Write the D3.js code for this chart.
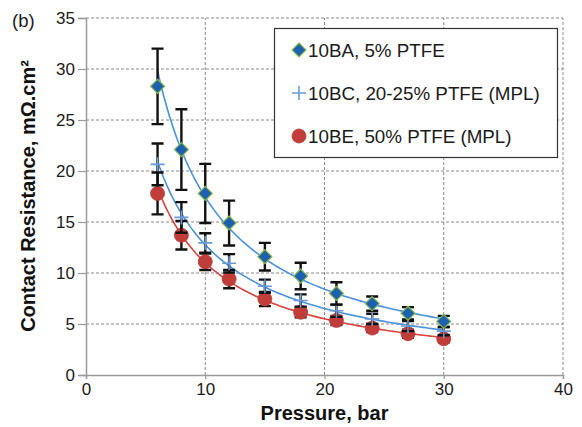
<!DOCTYPE html>
<html>
<head>
<meta charset="utf-8">
<script src="https://cdn.jsdelivr.net/npm/d3@7"></script>
<style>
  body { margin: 0; background: #fff; }
  svg { display: block; font-family: "Liberation Sans", Arial, sans-serif; }
</style>
</head>
<body>
<div id="chart"></div>
<script>
// pressure values (bar)
var pressure = [6, 8, 10, 12, 15, 18, 21, 24, 27, 30];

// contact resistance, mOhm.cm2, and error bar half-widths
var ba = [28.3, 22.1, 17.8, 14.9, 11.6, 9.7, 8.0, 7.0, 6.05, 5.25];
var baErr = [3.7, 3.95, 2.9, 2.2, 1.35, 1.3, 1.1, 0.7, 0.6, 0.55];
var bc = [20.65, 15.45, 12.95, 10.95, 8.7, 7.3, 6.3, 5.5, 4.8, 4.3];
var bcErr = [2.05, 1.5, 0.95, 0.9, 0.65, 0.6, 0.6, 0.5, 0.5, 0.4];
var be = [17.8, 13.7, 11.1, 9.4, 7.45, 6.15, 5.35, 4.6, 4.05, 3.55];
var beErr = [2.05, 1.4, 0.8, 0.9, 0.7, 0.5, 0.45, 0.4, 0.4, 0.35];

var seriesNames = ["10BA, 5% PTFE", "10BC, 20-25% PTFE (MPL)", "10BE, 50% PTFE (MPL)"];
var xTicks = [0, 10, 20, 30, 40];
var yTicks = [0, 5, 10, 15, 20, 25, 30, 35];

var width = 582, height = 427;
var margin = {left: 86, right: 19, top: 18, bottom: 52};

var svg = d3.select("#chart").append("svg")
  .attr("width", width)
  .attr("height", height);

var x = d3.scaleLinear().domain([0, 40]).range([margin.left, width - margin.right]);
var y = d3.scaleLinear().domain([0, 35]).range([height - margin.bottom, margin.top]);

// gridlines
svg.append("g")
  .selectAll("line.v")
  .data(xTicks.slice(1))
  .join("line")
  .attr("x1", d => x(d)).attr("x2", d => x(d))
  .attr("y1", y(0)).attr("y2", y(35))
  .attr("stroke", "#8a8a8a").attr("stroke-dasharray", "3,2");

svg.append("g")
  .selectAll("line.h")
  .data(yTicks.slice(1))
  .join("line")
  .attr("x1", x(0)).attr("x2", x(40))
  .attr("y1", d => y(d)).attr("y2", d => y(d))
  .attr("stroke", "#8a8a8a").attr("stroke-dasharray", "3,2");

// axes
var xAxis = svg.append("g")
  .attr("transform", "translate(0," + y(0) + ")")
  .call(d3.axisBottom(x).tickValues(xTicks).tickSize(4).tickPadding(4));
var yAxis = svg.append("g")
  .attr("transform", "translate(" + x(0) + ",0)")
  .call(d3.axisLeft(y).tickValues(yTicks).tickSize(8).tickPadding(3));

[xAxis, yAxis].forEach(function(a) {
  a.select(".domain").attr("stroke", "#9a9a9a").attr("stroke-width", 1.5);
  a.selectAll(".tick line").attr("stroke", "#9a9a9a").attr("stroke-width", 1.2);
  a.selectAll("text").attr("font-size", 17).attr("fill", "#1a1a1a")
    .attr("font-family", "Liberation Sans, Arial, sans-serif");
});
yAxis.selectAll("text").attr("dy", "0.35em");

// power-law trendlines (least squares on log-log, like a spreadsheet trendline)
function powerFit(xs, ys) {
  var lx = xs.map(Math.log), ly = ys.map(Math.log);
  var mx = d3.mean(lx), my = d3.mean(ly);
  var sxy = d3.sum(lx, (v, i) => (v - mx) * (ly[i] - my));
  var sxx = d3.sum(lx, v => (v - mx) * (v - mx));
  var b = sxy / sxx, a = Math.exp(my - b * mx);
  return function(p) { return a * Math.pow(p, b); };
}

var line = d3.line().x(d => x(d[0])).y(d => y(d[1])).curve(d3.curveLinear);
var px = d3.range(6, 30.01, 0.25);

var series = [
  {name: seriesNames[2], vals: be, err: beErr, lineColor: "#d9433f", marker: "circle"},
  {name: seriesNames[1], vals: bc, err: bcErr, lineColor: "#4b92dc", marker: "plus"},
  {name: seriesNames[0], vals: ba, err: baErr, lineColor: "#4b92dc", marker: "diamond"}
];

svg.append("g")
  .selectAll("path")
  .data(series)
  .join("path")
  .attr("fill", "none")
  .attr("stroke", d => d.lineColor)
  .attr("stroke-width", 1.6)
  .attr("d", function(d) {
    var f = powerFit(pressure, d.vals);
    return line(px.map(p => [p, f(p)]));
  });

function drawMarker(g, type, cx, cy) {
  if (type === "circle") {
    g.append("circle").attr("cx", cx).attr("cy", cy).attr("r", 7)
      .attr("fill", "#c13d3a").attr("stroke", "#b93a37").attr("stroke-width", 0.8);
  } else if (type === "plus") {
    g.append("path")
      .attr("d", "M" + (cx - 7) + "," + cy + "H" + (cx + 7) + "M" + cx + "," + (cy - 7) + "V" + (cy + 7))
      .attr("stroke", "#6b9ad9").attr("stroke-width", 1.6).attr("fill", "none");
  } else {
    g.append("path")
      .attr("d", "M" + cx + "," + (cy - 7) + "L" + (cx + 7) + "," + cy + "L" + cx + "," + (cy + 7) + "L" + (cx - 7) + "," + cy + "Z")
      .attr("fill", "#1d5fb0").attr("stroke", "#86bb4a").attr("stroke-width", 1.2);
  }
}

// error bars and markers
series.forEach(function(s) {
  var g = svg.append("g");
  s.vals.forEach(function(v, i) {
    var cx = x(pressure[i]);
    var top = y(v + s.err[i]), bot = y(v - s.err[i]);
    g.append("path")
      .attr("d", "M" + cx + "," + top + "V" + bot +
        "M" + (cx - 6) + "," + top + "H" + (cx + 6) +
        "M" + (cx - 6) + "," + bot + "H" + (cx + 6))
      .attr("stroke", "#111").attr("stroke-width", 2.4).attr("fill", "none");
  });
  s.vals.forEach(function(v, i) {
    drawMarker(g, s.marker, x(pressure[i]), y(v));
  });
});

// legend
var legend = svg.append("g");
legend.append("rect")
  .attr("x", 274.5).attr("y", 28.5).attr("width", 283).attr("height", 129)
  .attr("fill", "#fff").attr("stroke", "#333").attr("stroke-width", 1.2);

var legendItems = [
  {name: seriesNames[0], marker: "diamond"},
  {name: seriesNames[1], marker: "plus"},
  {name: seriesNames[2], marker: "circle"}
];
legendItems.forEach(function(d, i) {
  var ly = 50 + i * 43;
  drawMarker(legend, d.marker, 299, ly);
  legend.append("text")
    .attr("x", 308).attr("y", ly).attr("dy", "0.35em")
    .attr("font-size", 18.8).attr("fill", "#1a1a1a")
    .text(d.name);
});

// titles
svg.append("text")
  .attr("x", (x(0) + x(40)) / 2).attr("y", 420)
  .attr("text-anchor", "middle")
  .attr("font-size", 20).attr("font-weight", "bold").attr("fill", "#111")
  .text("Pressure, bar");

svg.append("text")
  .attr("transform", "translate(35," + 196 + ") rotate(-90)")
  .attr("text-anchor", "middle")
  .attr("font-size", 20).attr("font-weight", "bold").attr("fill", "#111")
  .text("Contact Resistance, mΩ.cm²");

svg.append("text")
  .attr("x", 12).attr("y", 27)
  .attr("font-size", 18.5).attr("fill", "#1a1a1a")
  .text("(b)");
</script>
</body>
</html>
